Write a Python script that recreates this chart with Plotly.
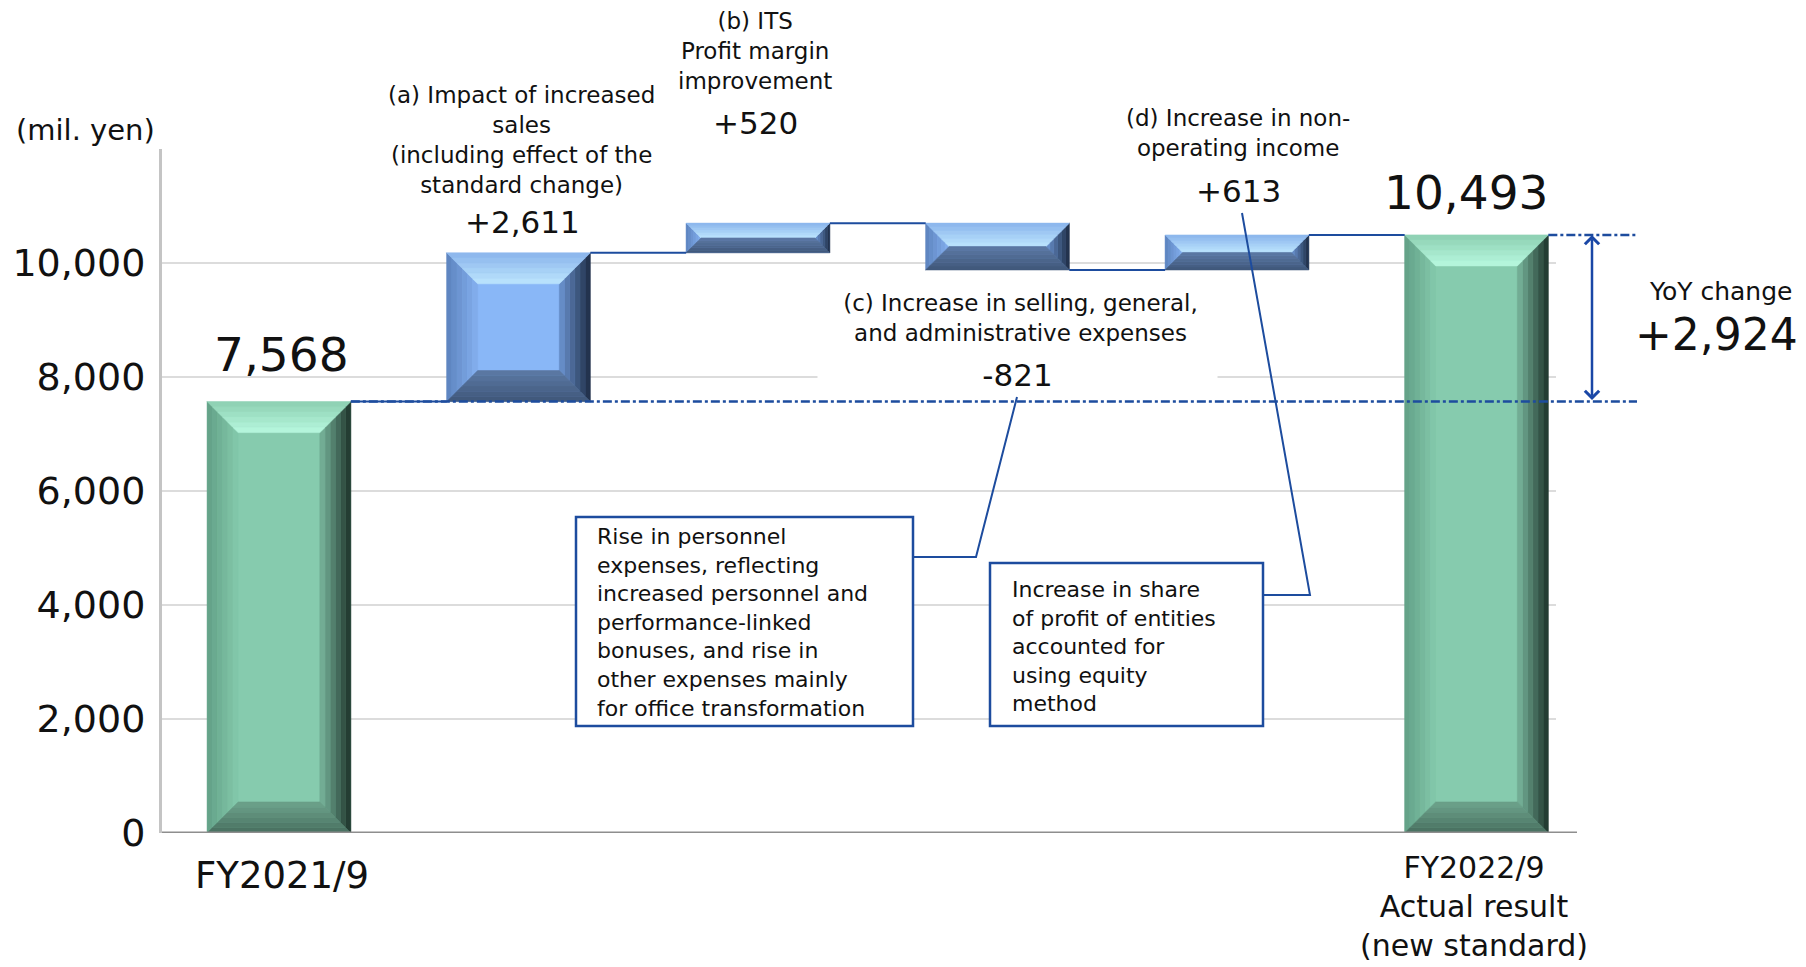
import plotly.graph_objects as go

# ---------------- data ----------------
categories = ["FY2021/9", "(a)", "(b)", "(c)", "(d)", "FY2022/9"]
start_value = 7568
deltas = [2611, 520, -821, 613]
end_value = 10493
yoy_change_label = "+2,924"
tick_values = [0, 2000, 4000, 6000, 8000, 10000]
tick_labels = ["0", "2,000", "4,000", "6,000", "8,000", "10,000"]
total_labels = ["7,568", "10,493"]
delta_labels = ["+2,611", "+520", "-821", "+613"]
delta_titles = [
    "(a) Impact of increased<br>sales<br>(including effect of the<br>standard change)",
    "(b) ITS<br>Profit margin<br>improvement",
    "(c) Increase in selling, general,<br>and administrative expenses",
    "(d) Increase in non-<br>operating income",
]
category_labels = ["FY2021/9", "FY2022/9<br>Actual result<br>(new standard)"]
note_c = ("Rise in personnel<br>expenses, reflecting<br>increased personnel and<br>"
          "performance-linked<br>bonuses, and rise in<br>other expenses mainly<br>"
          "for office transformation")
note_d = "Increase in share<br>of profit of entities<br>accounted for<br>using equity<br>method"
unit_label = "(mil. yen)"
yoy_title = "YoY change"

# ---------------- geometry (page pixels) ----------------
PAGE_W, PAGE_H = 1806, 967
BODY = 8                       # default body margin of the html page
PL, PR, PT, PB = 162, 1806, 149, 833   # plot area in page pixels
PX_CAT = 239.5
CX0 = 279.0
YMAX = 12000
PX_UNIT = (PB - PT) / YMAX
BAR_W = 0.6


def X(px):
    return (px - CX0) / PX_CAT


def Y(py):
    return (PB - py) / PX_UNIT


def XP(px):
    return (px - PL) / (PR - PL)


def YP(py):
    return (PB - py) / (PB - PT)


xmin, xmax = X(PL), X(PR)
FONT = "DejaVu Sans"
BLUE = "#1d4c9e"
INK = "#111111"

levels = [start_value]
for d in deltas:
    levels.append(levels[-1] + d)

total_x = [0, len(categories) - 1]
delta_x = list(range(1, len(deltas) + 1))
delta_base = levels[:-1]

fig = go.Figure()
fig.add_trace(go.Bar(x=total_x, y=[start_value, end_value], width=BAR_W,
                     marker=dict(color="#86cbae", line=dict(width=0)),
                     hoverinfo="skip", showlegend=False))
fig.add_trace(go.Bar(x=delta_x, y=deltas, base=delta_base, width=BAR_W,
                     marker=dict(color="#89b7f7", line=dict(width=0)),
                     hoverinfo="skip", showlegend=False))

shapes = []
annotations = []


def hex2rgb(h):
    h = h.lstrip("#")
    return tuple(int(h[i:i + 2], 16) for i in (0, 2, 4))


def lerp(c1, c2, t):
    a, b = hex2rgb(c1), hex2rgb(c2)
    return "rgb(%d,%d,%d)" % tuple(round(a[i] + (b[i] - a[i]) * t) for i in range(3))


GREEN = dict(top=("#8ccfb1", "#b8f8df"), left=("#62a086", "#84c9ac"),
             right=("#1c3229", "#7ab79e"), bottom=("#486f5f", "#6da38c"))
BLUEP = dict(top=("#8ab4ec", "#bce5fd"), left=("#5c82bd", "#84b0ef"),
             right=("#1c2a42", "#6c95d2"), bottom=("#3f5678", "#5c7aa6"))


def bevel(cx, y0, y1, pal, n=6):
    xl, xr = cx - BAR_W / 2, cx + BAR_W / 2
    yb, yt = min(y0, y1), max(y0, y1)
    hpx = (yt - yb) * PX_UNIT
    bpx = min(31.0, hpx / 2)
    bx, by = bpx / PX_CAT, bpx / PX_UNIT
    for k in range(n):
        d0, d1 = k / n, (k + 1) / n
        t = (k + 0.5) / n
        polys = {
            "left": [(xl + d0 * bx, yb + d0 * by), (xl + d0 * bx, yt - d0 * by),
                     (xl + d1 * bx, yt - d1 * by), (xl + d1 * bx, yb + d1 * by)],
            "right": [(xr - d0 * bx, yb + d0 * by), (xr - d0 * bx, yt - d0 * by),
                      (xr - d1 * bx, yt - d1 * by), (xr - d1 * bx, yb + d1 * by)],
            "top": [(xl + d0 * bx, yt - d0 * by), (xr - d0 * bx, yt - d0 * by),
                    (xr - d1 * bx, yt - d1 * by), (xl + d1 * bx, yt - d1 * by)],
            "bottom": [(xl + d0 * bx, yb + d0 * by), (xr - d0 * bx, yb + d0 * by),
                       (xr - d1 * bx, yb + d1 * by), (xl + d1 * bx, yb + d1 * by)],
        }
        for side, pts in polys.items():
            c_out, c_in = pal[side]
            path = "M " + " L ".join("%.5f,%.3f" % p for p in pts) + " Z"
            col = lerp(c_out, c_in, t)
            shapes.append(dict(type="path", path=path, xref="x", yref="y",
                               fillcolor=col, line=dict(width=0.6, color=col), layer="above"))


# gridlines
for v in tick_values[1:]:
    shapes.append(dict(type="line", xref="x", yref="y", x0=xmin, x1=X(1556), y0=v, y1=v,
                       line=dict(color="#dcdcdc", width=2), layer="below"))

# bevels
bevel(total_x[0], 0, start_value, GREEN)
for i, d in enumerate(deltas):
    bevel(delta_x[i], delta_base[i], delta_base[i] + d, BLUEP)
bevel(total_x[1], 0, end_value, GREEN)

# zero line
shapes.append(dict(type="line", xref="x", yref="y", x0=xmin, x1=X(1577), y0=0, y1=0,
                   line=dict(color="#8e8e8e", width=3), layer="above"))

# connectors between bars
conn_x = [total_x[0]] + delta_x
conn_next = delta_x + [total_x[1]]
for i in range(len(levels)):
    lv = levels[i]
    shapes.append(dict(type="line", xref="x", yref="y",
                       x0=conn_x[i] + BAR_W / 2, x1=conn_next[i] - BAR_W / 2, y0=lv, y1=lv,
                       line=dict(color=BLUE, width=2), layer="above"))

# dash-dot reference lines
ref_end = X(1637)
shapes.append(dict(type="line", xref="x", yref="y", x0=total_x[0] + BAR_W / 2, x1=ref_end,
                   y0=start_value, y1=start_value,
                   line=dict(color=BLUE, width=2.5, dash="dashdot"), layer="above"))
shapes.append(dict(type="line", xref="x", yref="y", x0=total_x[1] + BAR_W / 2, x1=ref_end,
                   y0=end_value, y1=end_value,
                   line=dict(color=BLUE, width=2.5, dash="dashdot"), layer="above"))


def poly_line(pts):
    return "M " + " L ".join("%.5f,%.3f" % (X(a), Y(b)) for a, b in pts)


# leader lines and note boxes
shapes.append(dict(type="path", xref="x", yref="y",
                   path=poly_line([(1017, 397), (976, 557), (913, 557)]),
                   line=dict(color=BLUE, width=2), layer="above"))
shapes.append(dict(type="path", xref="x", yref="y",
                   path=poly_line([(1242, 213), (1310, 595), (1263, 595)]),
                   line=dict(color=BLUE, width=2), layer="above"))
shapes.append(dict(type="rect", xref="x", yref="y", x0=X(576), x1=X(913), y0=Y(726), y1=Y(517),
                   fillcolor="white", line=dict(color=BLUE, width=2.5), layer="above"))
shapes.append(dict(type="rect", xref="x", yref="y", x0=X(990), x1=X(1263), y0=Y(726), y1=Y(563),
                   fillcolor="white", line=dict(color=BLUE, width=2.5), layer="above"))


def txt(text, px, py, size, xanchor="center", yanchor="middle", align="center", **kw):
    annotations.append(dict(text=text, x=XP(px), y=YP(py), xref="paper", yref="paper",
                            xanchor=xanchor, yanchor=yanchor, align=align, showarrow=False,
                            font=dict(family=FONT, size=size, color=INK), **kw))


txt(unit_label, 85, 130, 29)
txt(total_labels[0], 281, 354, 47)
txt(total_labels[1], 1466, 192, 47)

title_pos = [(521, 140), (755, 51), (1020, 318), (1238, 133)]
label_pos = [(522, 222), (755, 123), (1017, 375), (1238, 191)]
for i in range(len(deltas)):
    if i == 2:
        txt(delta_titles[i], *title_pos[i], 23, bgcolor="white", width=397)
        txt(delta_labels[i], *label_pos[i], 31, bgcolor="white", width=397)
    else:
        txt(delta_titles[i], *title_pos[i], 23)
        txt(delta_labels[i], *label_pos[i], 31)

txt(yoy_title, 1720, 291, 25)
txt(yoy_change_label, 1716, 334, 44)

txt(note_c, 595, 622, 22, xanchor="left", align="left")
txt(note_d, 1010, 646, 22, xanchor="left", align="left")

txt(category_labels[0], 282, 875, 37)
txt(category_labels[1], 1474, 848, 30, yanchor="top")

# YoY double arrow
arrow_x = X(1592)
annotations.append(dict(x=arrow_x, y=end_value, ax=arrow_x, ay=start_value,
                        xref="x", yref="y", axref="x", ayref="y", text="",
                        showarrow=True, arrowside="end+start", arrowhead=4, startarrowhead=4,
                        arrowsize=1.1, startarrowsize=1.1, arrowwidth=2.5, arrowcolor="#1a47a6",
                        standoff=0, startstandoff=0))

fig.update_layout(
    width=PAGE_W - BODY, height=PAGE_H - BODY,
    margin=dict(l=PL - BODY, r=PAGE_W - PR, t=PT - BODY, b=PAGE_H - PB, pad=0),
    paper_bgcolor="white", plot_bgcolor="white",
    barmode="overlay", bargap=0,
    shapes=shapes, annotations=annotations,
    xaxis=dict(range=[xmin, xmax], showticklabels=False, showgrid=False, zeroline=False,
               showline=False, fixedrange=True),
    yaxis=dict(range=[0, YMAX], tickvals=tick_values, ticktext=tick_labels, showgrid=False,
               zeroline=False, showline=True, linecolor="#c4c4c4", linewidth=3, ticks="",
               ticklabelstandoff=6,
               tickfont=dict(family=FONT, size=38, color=INK), fixedrange=True),
    font=dict(family=FONT),
)

fig.write_html("out.html")
